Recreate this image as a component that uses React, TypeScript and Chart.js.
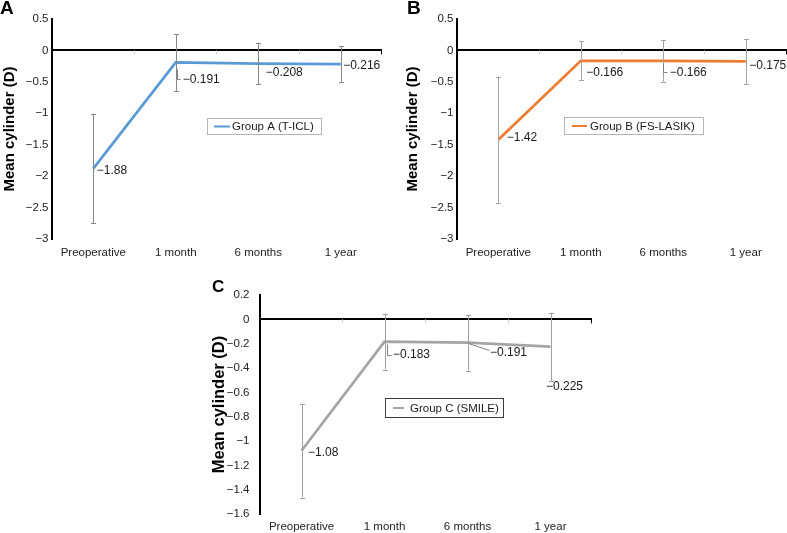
import React, { useEffect, useRef } from "react";
import { Chart, registerables } from "chart.js";

Chart.register(...registerables);

// ---------- data ----------
const categories = ["Preoperative", "1 month", "6 months", "1 year"];

const groupAMean = [-1.88, -0.191, -0.208, -0.216];
const groupASd = [0.87, 0.45, 0.33, 0.28];

const groupBMean = [-1.42, -0.166, -0.166, -0.175];
const groupBSd = [1.0, 0.31, 0.33, 0.36];

const groupCMean = [-1.08, -0.183, -0.191, -0.225];
const groupCSd = [0.385, 0.23, 0.23, 0.28];

const yRangeAB = [-3, 0.5];
const yStepAB = 0.5;
const yRangeC = [-1.6, 0.2];
const yStepC = 0.2;

const FONT = "'Liberation Sans', Arial, Helvetica, sans-serif";

function fmt(v: number): string {
  const r = Math.round(v * 1000) / 1000;
  return r < 0 ? "\u2212" + String(-r) : String(Math.abs(r));
}

type LabelOffset = { dx: number; dy: number; leader?: number[][] };

type PanelDef = {
  letter: string;
  means: number[];
  sds: number[];
  color: string;
  legendText: string;
  yRange: number[];
  yStep: number;
  left: number;
  top: number;
  width: number;
  height: number;
  padLeft: number;
  padTop: number;
  padRight: number;
  yWidth: number;
  xHeight: number;
  yTickPad: number;
  xTickPad: number;
  titleSize: number;
  errColor: string;
  letterPos: number[];
  letterSize: number;
  labelOffsets: LabelOffset[];
  legend: { x: number; y: number; w: number; h: number; border: string; l1: number; l2: number; tx: number };
};

const panels: PanelDef[] = [
  {
    letter: "A",
    means: groupAMean,
    sds: groupASd,
    color: "#5B9BD5",
    legendText: "Group A (T-ICL)",
    yRange: yRangeAB,
    yStep: yStepAB,
    left: 0,
    top: 0,
    width: 393,
    height: 268,
    padLeft: 0,
    padTop: 19,
    padRight: 11,
    yWidth: 52,
    xHeight: 29,
    yTickPad: 3.5,
    xTickPad: 7,
    titleSize: 15,
    errColor: "#858585",
    letterPos: [0, 14],
    letterSize: 19,
    labelOffsets: [
      { dx: 3.5, dy: 2 },
      { dx: 7, dy: 17, leader: [[1, 7], [1, 17], [4, 17]] },
      { dx: 7.5, dy: 9 },
      { dx: 2.5, dy: 2 },
    ],
    legend: { x: 207, y: 118, w: 114, h: 16, border: "#b5b5b5", l1: 214, l2: 230, tx: 232 },
  },
  {
    letter: "B",
    means: groupBMean,
    sds: groupBSd,
    color: "#ED7D31",
    legendText: "Group B (FS-LASIK)",
    yRange: yRangeAB,
    yStep: yStepAB,
    left: 393,
    top: 0,
    width: 394,
    height: 268,
    padLeft: 10,
    padTop: 19,
    padRight: 0,
    yWidth: 54,
    xHeight: 29,
    yTickPad: 3.5,
    xTickPad: 7,
    titleSize: 15,
    errColor: "#a3a3a3",
    letterPos: [14, 14],
    letterSize: 19,
    labelOffsets: [
      { dx: 8.5, dy: -1.5 },
      { dx: 5.5, dy: 12 },
      { dx: 6.5, dy: 12, leader: [[0, 2], [0, 11], [3.5, 11]] },
      { dx: 3.5, dy: 4.5 },
    ],
    legend: { x: 171, y: 117, w: 139, h: 17, border: "#b5b5b5", l1: 179, l2: 194, tx: 197 },
  },
  {
    letter: "C",
    means: groupCMean,
    sds: groupCSd,
    color: "#A5A5A5",
    legendText: "Group C (SMILE)",
    yRange: yRangeC,
    yStep: yStepC,
    left: 180,
    top: 268,
    width: 420,
    height: 265,
    padLeft: 29,
    padTop: 27,
    padRight: 8,
    yWidth: 51,
    xHeight: 19,
    yTickPad: 10.5,
    xTickPad: 6,
    titleSize: 16.5,
    errColor: "#a0a0a0",
    letterPos: [32, 24],
    letterSize: 17,
    labelOffsets: [
      { dx: 6.5, dy: 2.3 },
      { dx: 8.5, dy: 13.5, leader: [[2, 2], [2, 13], [6, 13]] },
      { dx: 22.5, dy: 10, leader: [[0, 0], [21, 7]] },
      { dx: -4.5, dy: 40 },
    ],
    legend: { x: 205, y: 130, w: 118, h: 19, border: "#3a3a3a", l1: 213, l2: 224, tx: 230 },
  },
];

function makePlugin(p: PanelDef) {
  return {
    id: "overlay" + p.letter,
    afterDatasetsDraw(chart: any) {
      const ctx: CanvasRenderingContext2D = chart.ctx;
      const xs = chart.scales.x;
      const ys = chart.scales.y;
      const area = chart.chartArea;
      const meta = chart.getDatasetMeta(0);
      ctx.save();

      // small category ticks under the zero line
      const y0 = ys.getPixelForValue(0);
      const n = p.means.length;
      for (let i = 0; i < n; i++) {
        const bx =
          i < n - 1 ? (xs.getPixelForValue(i) + xs.getPixelForValue(i + 1)) / 2 : area.right;
        ctx.strokeStyle = i < n - 1 ? "#d0d0d0" : "#000";
        ctx.lineWidth = 1;
        ctx.beginPath();
        ctx.moveTo(Math.round(bx) - 0.5, y0);
        ctx.lineTo(Math.round(bx) - 0.5, y0 + 4);
        ctx.stroke();
      }

      // error bars
      ctx.strokeStyle = p.errColor;
      ctx.lineWidth = 1;
      meta.data.forEach((pt: any, i: number) => {
        const m = p.means[i];
        const s = p.sds[i];
        const yt = ys.getPixelForValue(m + s);
        const yb = ys.getPixelForValue(m - s);
        const px = Math.round(pt.x) + 0.5;
        ctx.beginPath();
        ctx.moveTo(px, yt);
        ctx.lineTo(px, yb);
        ctx.moveTo(px - 2.5, Math.round(yt) + 0.5);
        ctx.lineTo(px + 2.5, Math.round(yt) + 0.5);
        ctx.moveTo(px - 2.5, Math.round(yb) + 0.5);
        ctx.lineTo(px + 2.5, Math.round(yb) + 0.5);
        ctx.stroke();
      });

      // data labels + leaders
      ctx.font = `12px ${FONT}`;
      ctx.fillStyle = "#1a1a1a";
      ctx.textAlign = "left";
      ctx.textBaseline = "middle";
      meta.data.forEach((pt: any, i: number) => {
        const o = p.labelOffsets[i];
        if (o.leader) {
          ctx.strokeStyle = "#808080";
          ctx.lineWidth = 1;
          ctx.beginPath();
          o.leader.forEach((q, k) => {
            const lx = Math.round(pt.x + q[0]) + 0.5;
            const ly = Math.round(pt.y + q[1]) + 0.5;
            if (k === 0) ctx.moveTo(lx, ly);
            else ctx.lineTo(lx, ly);
          });
          ctx.stroke();
        }
        ctx.fillText(fmt(p.means[i]), pt.x + o.dx, pt.y + o.dy);
      });

      // legend box
      const L = p.legend;
      ctx.fillStyle = "#fff";
      ctx.fillRect(L.x, L.y, L.w, L.h);
      ctx.strokeStyle = L.border;
      ctx.lineWidth = 1;
      ctx.strokeRect(L.x + 0.5, L.y + 0.5, L.w, L.h);
      ctx.strokeStyle = p.color;
      ctx.lineWidth = 2;
      ctx.beginPath();
      ctx.moveTo(L.l1, L.y + L.h / 2 + 0.5);
      ctx.lineTo(L.l2, L.y + L.h / 2 + 0.5);
      ctx.stroke();
      ctx.fillStyle = "#1a1a1a";
      ctx.font = `11.5px ${FONT}`;
      ctx.fillText(p.legendText, L.tx, L.y + L.h / 2 + 1);

      // panel letter
      ctx.font = `bold ${p.letterSize}px ${FONT}`;
      ctx.fillStyle = "#000";
      ctx.textBaseline = "alphabetic";
      ctx.fillText(p.letter, p.letterPos[0], p.letterPos[1]);
      ctx.restore();
    },
  };
}

function Panel({ p }: { p: PanelDef }) {
  const ref = useRef<HTMLCanvasElement | null>(null);
  useEffect(() => {
    if (!ref.current) return;
    const chart = new Chart(ref.current, {
      type: "line",
      data: {
        labels: categories,
        datasets: [
          {
            label: p.legendText,
            data: p.means,
            borderColor: p.color,
            backgroundColor: p.color,
            borderWidth: 2.75,
            pointRadius: 0,
            tension: 0,
            fill: false,
          },
        ],
      },
      options: {
        responsive: false,
        animation: false,
        devicePixelRatio: 1,
        layout: { padding: { left: p.padLeft, top: p.padTop, right: p.padRight, bottom: 0 } },
        plugins: { legend: { display: false }, tooltip: { enabled: false } },
        scales: {
          x: {
            type: "category",
            offset: true,
            grid: { display: false, drawTicks: false },
            border: { display: false },
            ticks: {
              color: "#222",
              font: { size: 11.5, family: FONT },
              padding: p.xTickPad,
              maxRotation: 0,
              autoSkip: false,
            },
            afterFit: (s: any) => {
              s.height = p.xHeight;
            },
          },
          y: {
            min: p.yRange[0],
            max: p.yRange[1],
            grid: {
              drawTicks: false,
              color: (c: any) =>
                c.tick && Math.abs(c.tick.value) < 1e-9 ? "#000" : "rgba(0,0,0,0)",
              lineWidth: 2,
            },
            border: { display: true, color: "#000", width: 2 },
            ticks: {
              stepSize: p.yStep,
              color: "#222",
              font: { size: 11.5, family: FONT },
              padding: p.yTickPad,
              callback: (v: any) => fmt(Number(v)),
            },
            title: {
              display: true,
              text: "Mean cylinder (D)",
              color: "#000",
              font: { size: p.titleSize, weight: "bold", family: FONT },
              padding: { top: 1, bottom: 0 },
            },
            afterFit: (s: any) => {
              s.width = p.yWidth;
            },
          },
        },
      } as any,
      plugins: [makePlugin(p)],
    });
    return () => chart.destroy();
  }, [p]);
  return (
    <canvas
      ref={ref}
      width={p.width}
      height={p.height}
      style={{ position: "absolute", left: p.left, top: p.top, width: p.width, height: p.height }}
    />
  );
}

export default function App() {
  Chart.defaults.font.family = FONT;
  return (
    <div
      style={{
        position: "absolute",
        left: 0,
        top: 0,
        width: 787,
        height: 533,
        background: "#fff",
        overflow: "hidden",
      }}
    >
      {panels.map((p) => (
        <Panel key={p.letter} p={p} />
      ))}
    </div>
  );
}
